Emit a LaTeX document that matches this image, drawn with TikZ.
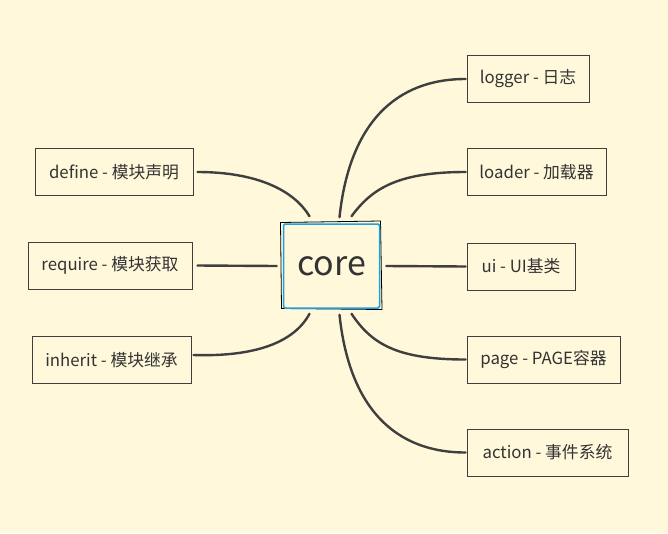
\documentclass[tikz,border=0pt]{standalone}
\usepackage{fontspec}
\setmainfont{Noto Sans CJK SC}
\usetikzlibrary{calc}
\definecolor{bg}{HTML}{FFF8DB}
\definecolor{ln}{HTML}{3F3F3F}
\definecolor{txt}{HTML}{333333}
\definecolor{coreblue}{HTML}{1BA1E2}
\tikzset{
  leaf/.style={draw=ln, line width=0.9pt, fill=bg, inner sep=0pt, minimum height=47pt, font=\fontsize{16.8}{18}\selectfont, text=txt},
  conn/.style={draw=ln, line width=2.4pt, line cap=round},
}
\begin{document}
\begin{tikzpicture}[x=1pt,y=-1pt]
\fill[bg] (0,0) rectangle (668,533);
\useasboundingbox (0,0) rectangle (668,533);
% core
\fill[bg] (281,222) rectangle (381,309);
\draw[black, line width=0.8pt] (280.5,222.5) -- (380.5,221) -- (382,309.5) -- (281.5,308.5) -- cycle;
\node[draw=coreblue, line width=1.5pt, rounded corners=1.5pt, minimum width=96pt, minimum height=84pt, inner sep=0pt, font=\fontsize{34}{36}\selectfont, text=txt] (core) at (331.5,266) {core};
% leaves
\node[leaf, minimum width=158pt] (define) at (114,172) {define - 模块声明};
\node[leaf, minimum width=164pt] (require) at (110,265.5) {require - 模块获取};
\node[leaf, minimum width=159pt] (inherit) at (111.5,360) {inherit - 模块继承};
\node[leaf, minimum width=122pt] (logger) at (528,79) {logger - 日志};
\node[leaf, minimum width=139pt] (loader) at (536.5,172) {loader - 加载器};
\node[leaf, minimum width=108pt] (ui) at (521,266.5) {ui - UI基类};
\node[leaf, minimum width=153pt] (page) at (543.5,359.5) {page - PAGE容器};
\node[leaf, minimum width=161pt] (action) at (547.5,452.5) {action - 事件系统};
% connector end points
\coordinate (cTR) at ($(core.north)+(8,-6)$);
\coordinate (cTR2) at ($(core.north)+(20,-7)$);
\coordinate (cTL) at ($(core.north)+(-22,-7)$);
\coordinate (cBR) at ($(core.south)+(8,6)$);
\coordinate (cBR2) at ($(core.south)+(20,5)$);
\coordinate (cBL) at ($(core.south)+(-22,5)$);
% connectors right
\draw[conn] (cTR) .. controls ($(cTR)+(10,-95)$) and ($(logger.west)+(-70,0)$) .. ($(logger.west)+(-1,0)$);
\draw[conn] (cTR2) .. controls ($(cTR2)+(20,-27)$) and ($(loader.west)+(-70,0)$) .. ($(loader.west)+(-1,0)$);
\draw[conn] ($(core.east)+(6,0)$) -- ($(ui.west)+(-1,0)$);
\draw[conn] (cBR2) .. controls ($(cBR2)+(20,30)$) and ($(page.west)+(-70,0)$) .. ($(page.west)+(-1,0)$);
\draw[conn] (cBR) .. controls ($(cBR)+(10,95)$) and ($(action.west)+(-70,0)$) .. ($(action.west)+(-1,0)$);
% connectors left
\draw[conn] (cTL) .. controls ($(cTL)+(-15,-25)$) and ($(define.east)+(65,0)$) .. ($(define.east)+(4,0)$);
\draw[conn] ($(core.west)+(-6,0)$) -- ($(require.east)+(5,0)$);
\draw[conn] (cBL) .. controls ($(cBL)+(-15,28)$) and ($(inherit.east)+(65,-3)$) .. ($(inherit.east)+(2,-5)$);
\end{tikzpicture}
\end{document}
